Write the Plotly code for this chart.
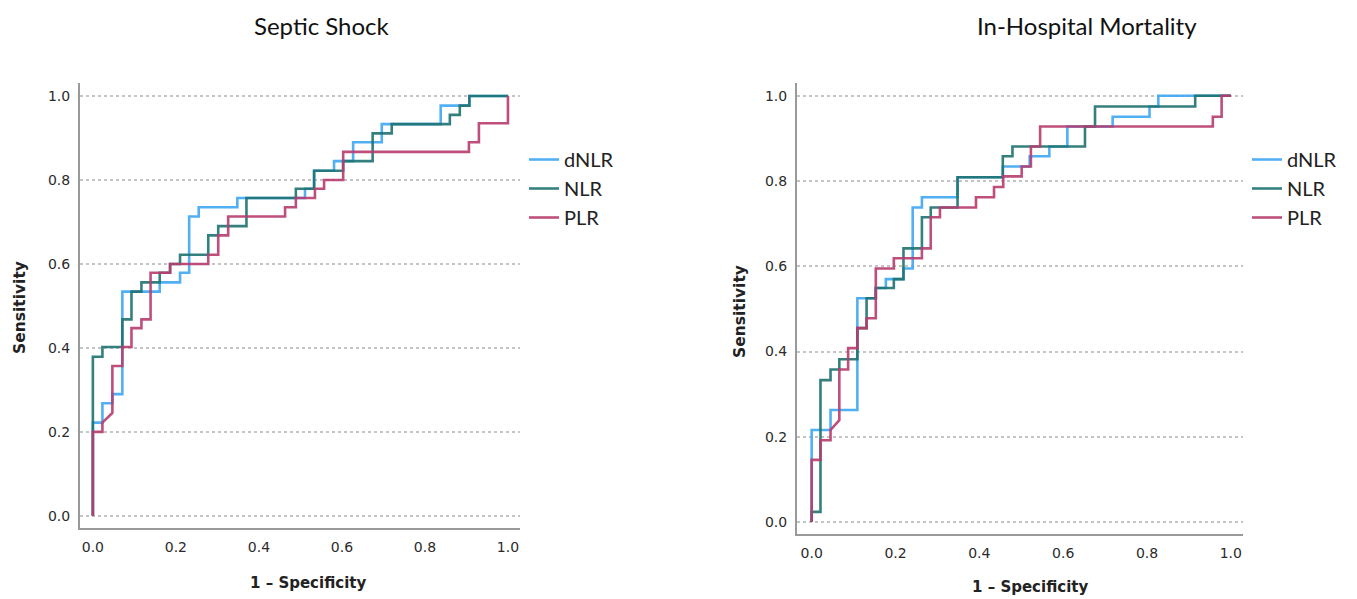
import plotly.graph_objects as go

# ---------------- data ----------------
series_names = ["dNLR", "NLR", "PLR"]
panel_titles = ["Septic Shock", "In-Hospital Mortality"]
tick_vals = [0.0, 0.2, 0.4, 0.6, 0.8, 1.0]
tick_text = ["0.0", "0.2", "0.4", "0.6", "0.8", "1.0"]

# Septic Shock
ss_dnlr_fpr = [0, 0, 0.023, 0.023, 0.047, 0.047, 0.071, 0.071, 0.161, 0.161, 0.21, 0.21, 0.232, 0.232, 0.255, 0.255,
               0.348, 0.348, 0.511, 0.511, 0.533, 0.533, 0.581, 0.581, 0.627, 0.627, 0.696, 0.696, 0.838, 0.838,
               0.907, 0.907, 1.0]
ss_dnlr_tpr = [0, 0.222, 0.222, 0.268, 0.268, 0.29, 0.29, 0.534, 0.534, 0.556, 0.556, 0.579, 0.579, 0.713, 0.713, 0.735,
               0.735, 0.757, 0.757, 0.779, 0.779, 0.822, 0.822, 0.845, 0.845, 0.89, 0.89, 0.933, 0.933, 0.977,
               0.977, 1.0, 1.0]

ss_nlr_fpr = [0, 0, 0.023, 0.023, 0.071, 0.071, 0.093, 0.093, 0.117, 0.117, 0.161, 0.161, 0.186, 0.186, 0.21, 0.21,
              0.278, 0.278, 0.302, 0.302, 0.37, 0.37, 0.489, 0.489, 0.533, 0.533, 0.603, 0.603, 0.674, 0.674,
              0.72, 0.72, 0.86, 0.86, 0.884, 0.884, 0.907, 0.907, 1.0]
ss_nlr_tpr = [0, 0.379, 0.379, 0.402, 0.402, 0.468, 0.468, 0.534, 0.534, 0.556, 0.556, 0.579, 0.579, 0.6, 0.6, 0.622,
              0.622, 0.668, 0.668, 0.69, 0.69, 0.757, 0.757, 0.779, 0.779, 0.822, 0.822, 0.845, 0.845, 0.911,
              0.911, 0.933, 0.933, 0.955, 0.955, 0.977, 0.977, 1.0, 1.0]

ss_plr_fpr = [0, 0, 0.023, 0.023, 0.047, 0.047, 0.071, 0.071, 0.093, 0.093, 0.117, 0.117, 0.139, 0.139, 0.186, 0.186,
              0.278, 0.278, 0.302, 0.302, 0.326, 0.326, 0.463, 0.463, 0.489, 0.489, 0.535, 0.535, 0.557, 0.557,
              0.603, 0.603, 0.906, 0.906, 0.93, 0.93, 1.0, 1.0]
ss_plr_tpr = [0, 0.2, 0.2, 0.222, 0.245, 0.357, 0.357, 0.402, 0.402, 0.447, 0.447, 0.468, 0.468, 0.579, 0.579, 0.6,
              0.6, 0.622, 0.622, 0.668, 0.668, 0.713, 0.713, 0.735, 0.735, 0.757, 0.757, 0.779, 0.779, 0.80,
              0.80, 0.867, 0.867, 0.89, 0.89, 0.935, 0.935, 1.0]

# In-Hospital Mortality
hm_dnlr_fpr = [0, 0, 0.045, 0.045, 0.109, 0.109, 0.153, 0.153, 0.177, 0.177, 0.219, 0.219, 0.241, 0.241, 0.263, 0.263,
               0.348, 0.348, 0.456, 0.456, 0.52, 0.52, 0.567, 0.567, 0.61, 0.61, 0.718, 0.718, 0.806, 0.806,
               0.827, 0.827, 1.0]
hm_dnlr_tpr = [0, 0.216, 0.216, 0.263, 0.263, 0.525, 0.525, 0.549, 0.549, 0.570, 0.570, 0.595, 0.595, 0.738, 0.738, 0.762,
               0.762, 0.809, 0.809, 0.834, 0.834, 0.858, 0.858, 0.881, 0.881, 0.928, 0.928, 0.951, 0.951, 0.975,
               0.975, 1.0, 1.0]

hm_nlr_fpr = [0, 0, 0.021, 0.021, 0.045, 0.045, 0.066, 0.066, 0.109, 0.109, 0.131, 0.131, 0.153, 0.153, 0.196, 0.196,
              0.219, 0.219, 0.263, 0.263, 0.284, 0.284, 0.348, 0.348, 0.456, 0.456, 0.479, 0.479, 0.652, 0.652,
              0.676, 0.676, 0.915, 0.915, 1.0]
hm_nlr_tpr = [0, 0.024, 0.024, 0.333, 0.333, 0.358, 0.358, 0.382, 0.382, 0.455, 0.455, 0.525, 0.525, 0.549, 0.549, 0.570,
              0.570, 0.642, 0.642, 0.715, 0.715, 0.738, 0.738, 0.809, 0.809, 0.858, 0.858, 0.881, 0.881, 0.928,
              0.928, 0.975, 0.975, 1.0, 1.0]

hm_plr_fpr = [0, 0, 0.021, 0.021, 0.045, 0.045, 0.066, 0.066, 0.087, 0.087, 0.109, 0.109, 0.131, 0.131, 0.153, 0.153,
              0.196, 0.196, 0.263, 0.263, 0.284, 0.284, 0.306, 0.306, 0.392, 0.392, 0.435, 0.435, 0.457, 0.457,
              0.501, 0.501, 0.523, 0.523, 0.545, 0.545, 0.957, 0.957, 0.978, 0.978, 1.0]
hm_plr_tpr = [0, 0.146, 0.146, 0.192, 0.192, 0.216, 0.239, 0.358, 0.358, 0.408, 0.408, 0.455, 0.455, 0.478, 0.478, 0.595,
              0.595, 0.619, 0.619, 0.642, 0.642, 0.715, 0.715, 0.738, 0.738, 0.762, 0.762, 0.786, 0.786, 0.811,
              0.811, 0.834, 0.834, 0.881, 0.881, 0.928, 0.928, 0.951, 0.951, 1.0, 1.0]

# ---------------- styling ----------------
# the page body has an 8px margin, so the figure is a bit smaller and
# positions below are given in window pixels and shifted by that margin
OFF = 8
W, H = 1357 - OFF, 599 - OFF
colors = ["#3fa7f2", "#1f7372", "#b83c6f"]

def px(x):
    return (x - OFF) / W

def py(y):
    return 1 - (y - OFF) / H

fig = go.Figure()

panels = [
    ("x", "y", "legend", [(ss_dnlr_fpr, ss_dnlr_tpr), (ss_nlr_fpr, ss_nlr_tpr), (ss_plr_fpr, ss_plr_tpr)]),
    ("x2", "y2", "legend2", [(hm_dnlr_fpr, hm_dnlr_tpr), (hm_nlr_fpr, hm_nlr_tpr), (hm_plr_fpr, hm_plr_tpr)]),
]
for xa, ya, lg, data in panels:
    for name, color, (fx, ty) in zip(series_names, colors, data):
        fig.add_trace(go.Scatter(
            x=fx, y=ty, mode="lines", name=name, xaxis=xa, yaxis=ya, legend=lg,
            line=dict(color=color, width=2.6), opacity=0.9, hoverinfo="skip"))

axis_common = dict(
    tickvals=tick_vals, ticktext=tick_text,
    tickfont=dict(family="DejaVu Sans", size=14, color="#2b2b2b"),
    ticks="outside", ticklen=5, tickcolor="rgba(0,0,0,0)",
    showline=True, linecolor="#9a9a9a", linewidth=2,
    zeroline=False, fixedrange=True,
)
xgrid = dict(showgrid=False)
ygrid = dict(showgrid=True, gridcolor="#c4c4c4", griddash="dot", gridwidth=1.6)

legend_common = dict(xanchor="left", yanchor="top",
                     font=dict(family="Lato", size=20, color="#222222"),
                     bgcolor="rgba(0,0,0,0)", tracegroupgap=0, itemwidth=30)

fig.update_layout(
    width=W, height=H,
    margin=dict(l=0, r=0, t=0, b=0),
    paper_bgcolor="white", plot_bgcolor="white",
    xaxis=dict(domain=[px(80), px(520)], range=[-0.031, 1.029], anchor="y", **axis_common, **xgrid),
    yaxis=dict(domain=[py(528), py(83)], range=[-0.029, 1.031], anchor="x", **axis_common, **ygrid),
    xaxis2=dict(domain=[px(797), px(1243)], range=[-0.035, 1.029], anchor="y2", **axis_common, **xgrid),
    yaxis2=dict(domain=[py(534), py(83)], range=[-0.028, 1.03], anchor="x2", **axis_common, **ygrid),
    legend=dict(x=px(524), y=py(140), **legend_common),
    legend2=dict(x=px(1247), y=py(140), **legend_common),
    showlegend=True,
)

annotations = [
    dict(text=panel_titles[0], x=px(322), y=py(25), font=dict(family="Lato", size=24, color="#111111")),
    dict(text=panel_titles[1], x=px(1087), y=py(25), font=dict(family="Lato", size=24, color="#111111")),
    dict(text="<b>Sensitivity</b>", x=px(20), y=py(308), textangle=-90,
         font=dict(family="DejaVu Sans", size=15.5, color="#222222")),
    dict(text="<b>Sensitivity</b>", x=px(740), y=py(312), textangle=-90,
         font=dict(family="DejaVu Sans", size=15.5, color="#222222")),
    dict(text="<b>1 \u2013 Specificity</b>", x=px(308), y=py(583),
         font=dict(family="DejaVu Sans", size=15, color="#222222")),
    dict(text="<b>1 \u2013 Specificity</b>", x=px(1030), y=py(587),
         font=dict(family="DejaVu Sans", size=15, color="#222222")),
]
for a in annotations:
    a.update(xref="paper", yref="paper", showarrow=False, xanchor="center", yanchor="middle")
fig.update_layout(annotations=annotations)

fig.write_html("out.html")
